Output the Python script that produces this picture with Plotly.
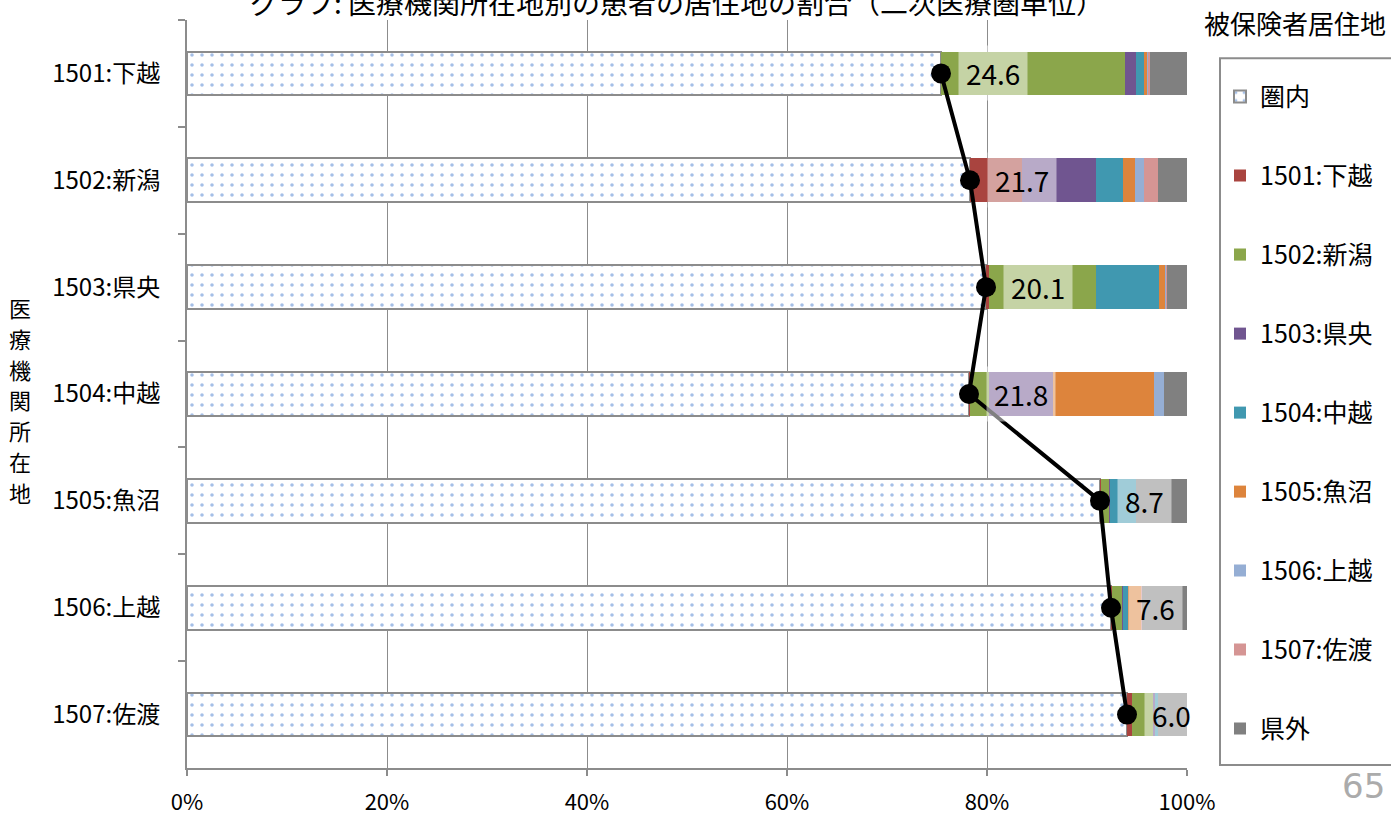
import plotly.graph_objects as go

# ---- data ----
categories = ["1501:下越", "1502:新潟", "1503:県央", "1504:中越", "1505:魚沼", "1506:上越", "1507:佐渡"]
series_names = ["圏内", "1501:下越", "1502:新潟", "1503:県央", "1504:中越", "1505:魚沼", "1506:上越", "1507:佐渡", "県外"]

v_inner = [75.4, 78.3, 79.9, 78.2, 91.3, 92.4, 94.0]
v_1501 = [0.0, 5.2, 0.3, 0.1, 0.1, 0.1, 0.5]
v_1502 = [18.4, 0.0, 10.7, 1.9, 0.8, 1.0, 2.1]
v_1503 = [1.1, 7.4, 0.0, 6.4, 0.1, 0.1, 0.2]
v_1504 = [0.8, 2.7, 6.3, 0.0, 2.6, 0.5, 0.3]
v_1505 = [0.3, 1.2, 0.6, 10.1, 0.0, 1.3, 0.0]
v_1506 = [0.1, 0.9, 0.1, 1.0, 0.0, 0.0, 0.0]
v_1507 = [0.2, 1.4, 0.1, 0.0, 0.0, 0.1, 0.0]
v_out = [3.7, 2.9, 2.0, 2.3, 5.1, 4.5, 2.9]
outflow_labels = [24.6, 21.7, 20.1, 21.8, 8.7, 7.6, 6.0]

x_ticks = [0, 20, 40, 60, 80, 100]
x_ticklabels = ["0%", "20%", "40%", "60%", "80%", "100%"]

y_title = "医療機関所在地"
legend_title = "被保険者居住地"
chart_title = "グラフ: 医療機関所在地別の患者の居住地の割合（二次医療圏単位）"
page_number = "65"

series_values = [v_inner, v_1501, v_1502, v_1503, v_1504, v_1505, v_1506, v_1507, v_out]
colors = [None, "#A9443F", "#8BA64B", "#705590", "#4098B0", "#DD843C", "#95AED4", "#D59594", "#808080"]

FONT = "Noto Sans CJK JP"

fig = go.Figure()
for i, (name, vals) in enumerate(zip(series_names, series_values)):
    if i == 0:
        marker = dict(color="white", line=dict(color="#8C8C8C", width=2),
                      pattern=dict(shape=".", fgcolor="#4A7FD0", bgcolor="white", size=10, solidity=0.1))
    else:
        marker = dict(color=colors[i], line=dict(width=0))
    fig.add_trace(go.Bar(y=categories, x=vals, orientation="h", name=name, marker=marker,
                         legendgroup=f"g{i}", hoverinfo="skip"))

fig.add_trace(go.Scatter(y=categories, x=v_inner, mode="lines+markers",
                         line=dict(color="black", width=4),
                         marker=dict(color="black", size=20),
                         showlegend=False, hoverinfo="skip"))

annotations = []
for cat, xv, lab in zip(categories, v_inner, outflow_labels):
    annotations.append(dict(x=xv, y=cat, xref="x", yref="y", text=f"{lab:.1f}",
                            showarrow=False, xanchor="left", yanchor="middle", xshift=17,
                            font=dict(family=FONT, size=28, color="black"),
                            bgcolor="rgba(255,255,255,0.5)", borderpad=7))

# title (cut at top)
annotations.append(dict(x=0.490, y=1.0247, xref="paper", yref="paper", text=chart_title,
                        showarrow=False, xanchor="center", yanchor="middle",
                        font=dict(family=FONT, size=28, color="black")))
# y axis title, one character per line
for k, ch in enumerate(y_title):
    py = 307 + k * 30.8
    annotations.append(dict(x=-0.167, y=(768 - py) / 748, xref="paper", yref="paper", text=ch,
                            showarrow=False, xanchor="center", yanchor="middle",
                            font=dict(family=FONT, size=22, color="black")))
# legend title
annotations.append(dict(x=1.1075, y=0.997, xref="paper", yref="paper", text=legend_title,
                        showarrow=False, xanchor="center", yanchor="middle",
                        font=dict(family=FONT, size=26, color="black")))
# page number
annotations.append(dict(x=1.176, y=-0.024, xref="paper", yref="paper", text=page_number,
                        showarrow=False, xanchor="center", yanchor="middle",
                        font=dict(family="DejaVu Sans", size=34, color="#ABABAB")))

shapes = [dict(type="rect", xref="paper", yref="paper", x0=1.033, x1=1.25, y0=0.004, y1=0.949,
               line=dict(color="#8C8C8C", width=2), fillcolor="rgba(0,0,0,0)", layer="above")]

fig.update_layout(
    barmode="stack",
    bargap=0.59,
    width=1391, height=815,
    margin=dict(l=187, r=204, t=20, b=47, autoexpand=False),
    plot_bgcolor="white", paper_bgcolor="white",
    font=dict(family=FONT, size=20, color="black"),
    showlegend=True,
    legend=dict(x=1.033, y=0.928, xanchor="left", yanchor="top", traceorder="grouped",
                tracegroupgap=43.5, font=dict(family=FONT, size=25, color="black"),
                bgcolor="rgba(0,0,0,0)", borderwidth=0),
    annotations=annotations,
    shapes=shapes,
    xaxis=dict(range=[0, 100], tickvals=x_ticks, ticktext=x_ticklabels,
               showgrid=True, gridcolor="#8C8C8C", gridwidth=1,
               showline=True, linecolor="#8C8C8C", linewidth=2,
               ticks="outside", ticklen=6, tickcolor="#8C8C8C", tickwidth=2,
               tickfont=dict(family=FONT, size=22), zeroline=False, fixedrange=True,
               ticklabelstandoff=8, automargin=False),
    yaxis=dict(autorange="reversed", categoryorder="array", categoryarray=categories,
               showline=True, linecolor="#8C8C8C", linewidth=2,
               ticks="outside", tickson="boundaries", ticklen=7, tickcolor="#8C8C8C", tickwidth=2,
               tickfont=dict(family=FONT, size=24), showgrid=False, fixedrange=True,
               ticklabelstandoff=20, automargin=False),
)

fig.write_html("out.html", config={"displayModeBar": False},
               post_script="document.body.style.margin='0';")
